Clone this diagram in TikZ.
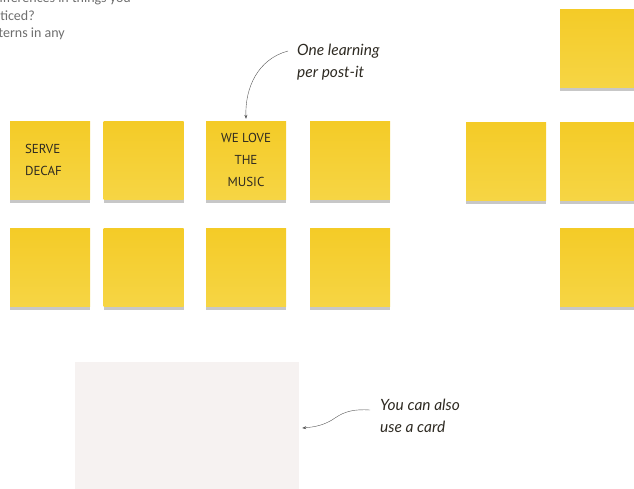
\documentclass[tikz,border=0pt]{standalone}
\usepackage{fontspec}
\usepackage{tikz}
\usetikzlibrary{arrows.meta,shadows,positioning}
\setmainfont{Carlito}
\newfontfamily\handfont{Lato}
\newfontfamily\notefont{PT Sans}
\definecolor{lrnYellow}{HTML}{F4CB27}
\definecolor{lrnYellowLo}{HTML}{F6D544}
\definecolor{lrnCard}{HTML}{F6F2F1}
\definecolor{lrnInk}{HTML}{2E2A22}
\definecolor{lrnGray}{HTML}{6E6E6E}
\definecolor{lrnArrow}{HTML}{555555}
\tikzset{
  lrnnote/.style={rectangle,minimum width=80pt,minimum height=78pt,
                  top color=lrnYellow,bottom color=lrnYellowLo,
                  general shadow={fill=black,opacity=.22,shadow xshift=0pt,
                                  shadow yshift=-4pt},
                  inner sep=0pt,font=\notefont\fontsize{13}{22}\selectfont,
                  text=lrnInk,align=center},
  lrncard/.style={rectangle,fill=lrnCard,minimum width=224pt,
                  minimum height=150pt,inner sep=0pt},
  lrnhand/.style={font=\handfont\itshape\fontsize{15.5}{22}\selectfont,
                  text=lrnInk,align=left,inner sep=0pt},
  lrnintro/.style={font=\fontsize{14}{17}\selectfont,text=lrnGray,
                   inner sep=0pt},
  lrnarrow/.style={-{Stealth[length=4pt,width=3pt]},thin,lrnArrow}
}
\begin{document}
\begin{tikzpicture}[x=1pt,y=-1pt]
    \useasboundingbox (0,0) rectangle (634,488);
    \clip (0,0) rectangle (634,488);

    % intro text, cut at the page edge
    \node[lrnintro,anchor=base east] (intro1) at (131,2)
      {similarities or differences in things you};
    \node[lrnintro,anchor=base east] (intro2) at (35,20) {noticed?};
    \node[lrnintro,anchor=base east] (intro3) at (65,37) {patterns in any};

    % first board
    \node[lrnnote,align=left,text width=50pt] (decaf) at (50,160)
      {SERVE\\DECAF};
    \node[lrnnote] (n12) at (143.5,160) {};
    \node[lrnnote] (love) at (246,160) {WE LOVE\\THE\\MUSIC};
    \node[lrnnote] (n14) at (350,160) {};
    \node[lrnnote] (n21) at (50,267) {};
    \node[lrnnote] (n22) at (143.5,267) {};
    \node[lrnnote] (n23) at (246,267) {};
    \node[lrnnote] (n24) at (350,267) {};

    % second board
    \node[lrnnote] (m0) at (600,48) {};
    \node[lrnnote] (m1) at (506,161) {};
    \node[lrnnote] (m2) at (600,161) {};
    \node[lrnnote] (m3) at (600,267) {};

    \node[lrnhand,anchor=north west] (onelearn) at (297,44)
      {One learning\\per post-it};
    \draw[lrnarrow] ([xshift=-9pt,yshift=-7pt]onelearn.north west)
      to[out=195,in=92] ([yshift=2pt]love.north);

    % card
    \node[lrncard] (card) at (187,437) {};
    \node[lrnhand,anchor=north west] (alsocard) at (380,399)
      {You can also\\use a card};
    \draw[lrnarrow] ([xshift=-10pt,yshift=-11pt]alsocard.north west)
      .. controls (355,409) and (345,411) .. (335,418)
      .. controls (325,425) and (315,427) .. ([xshift=3pt,yshift=9pt]card.east);
\end{tikzpicture}
\end{document}
